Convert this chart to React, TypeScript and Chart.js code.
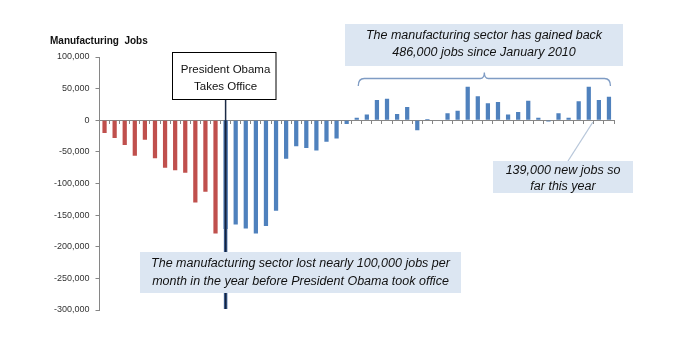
import React, { useEffect, useRef } from "react";
import { Chart, registerables } from "chart.js";

Chart.register(...registerables);

// Monthly change in manufacturing jobs, Jan 2008 – Mar 2012
const months = [
  "Jan 2008", "Feb 2008", "Mar 2008", "Apr 2008", "May 2008", "Jun 2008",
  "Jul 2008", "Aug 2008", "Sep 2008", "Oct 2008", "Nov 2008", "Dec 2008",
  "Jan 2009", "Feb 2009", "Mar 2009", "Apr 2009", "May 2009", "Jun 2009",
  "Jul 2009", "Aug 2009", "Sep 2009", "Oct 2009", "Nov 2009", "Dec 2009",
  "Jan 2010", "Feb 2010", "Mar 2010", "Apr 2010", "May 2010", "Jun 2010",
  "Jul 2010", "Aug 2010", "Sep 2010", "Oct 2010", "Nov 2010", "Dec 2010",
  "Jan 2011", "Feb 2011", "Mar 2011", "Apr 2011", "May 2011", "Jun 2011",
  "Jul 2011", "Aug 2011", "Sep 2011", "Oct 2011", "Nov 2011", "Dec 2011",
  "Jan 2012", "Feb 2012", "Mar 2012",
];

const jobs2008 = [-20000, -28000, -39000, -56000, -31000, -60000, -75000, -79000, -83000, -130000, -113000, -179000];
const jobs2009 = [-172000, -165000, -171000, -179000, -167000, -143000, -61000, -41000, -44000, -48000, -34000, -29000];
const jobs2010 = [-6000, 4000, 9000, 32000, 34000, 10000, 21000, -16000, 2000, 0, 11000, 15000];
const jobs2011 = [53000, 38000, 27000, 29000, 9000, 13000, 31000, 4000, -2000, 11000, 4000, 30000];
const jobs2012 = [53000, 32000, 37000];

const jobs = [...jobs2008, ...jobs2009, ...jobs2010, ...jobs2011, ...jobs2012];

const yMin = -300000;
const yMax = 100000;
const yStep = 50000;

const obamaMonth = "Jan 2009";
const bracketFrom = "Feb 2010";
const bracketTo = "Mar 2012";
const leaderMonth = "Jan 2012";

const titleText = "Manufacturing  Jobs";
const obamaText = ["President Obama", "Takes Office"];
const lostText = [
  "The manufacturing sector lost nearly 100,000 jobs per",
  "month in the year before President Obama took office",
];
const gainedText = ["The manufacturing sector has gained back", "486,000 jobs since January 2010"];
const yearText = ["139,000 new jobs so", "far this year"];

const RED = "#C0504D";
const BLUE = "#4F81BD";
const NOTE_FILL = "#DCE6F2";
const AXIS = "#868686";

const FONT = "'Liberation Sans', Arial, sans-serif";

function drawLines(ctx: CanvasRenderingContext2D, lines: string[], cx: number, y0: number, lh: number) {
  lines.forEach((t, i) => ctx.fillText(t, cx, y0 + i * lh));
}

const annotationPlugin = {
  id: "annotations",
  afterDatasetsDraw(chart: any) {
    const { ctx, scales } = chart;
    const x = scales.x;
    const y = scales.y;
    const zero = y.getPixelForValue(0);
    const ox = x.getPixelForValue(months.indexOf(obamaMonth));
    const yBottom = y.getPixelForValue(yMin);

    ctx.save();

    // Obama line
    ctx.lineCap = "butt";
    ctx.strokeStyle = "#1b2a44";
    ctx.lineWidth = 1.5;
    ctx.beginPath();
    ctx.moveTo(ox, 99);
    ctx.lineTo(ox, zero);
    ctx.stroke();
    ctx.strokeStyle = "#3d5f93";
    ctx.lineWidth = 3.5;
    ctx.beginPath();
    ctx.moveTo(ox, zero);
    ctx.lineTo(ox, yBottom - 1);
    ctx.stroke();
    ctx.strokeStyle = "#15233d";
    ctx.lineWidth = 1.5;
    ctx.beginPath();
    ctx.moveTo(ox, zero);
    ctx.lineTo(ox, yBottom - 1);
    ctx.stroke();

    // Obama box
    ctx.fillStyle = "#ffffff";
    ctx.fillRect(172.5, 52, 103.5, 47);
    ctx.strokeStyle = "#000000";
    ctx.lineWidth = 1;
    ctx.strokeRect(172.5, 52.5, 103.5, 47);
    ctx.fillStyle = "#111111";
    ctx.font = `11.5px ${FONT}`;
    ctx.textAlign = "center";
    ctx.textBaseline = "middle";
    drawLines(ctx, obamaText, ox, 70, 17);

    // "lost" note
    ctx.fillStyle = NOTE_FILL;
    ctx.fillRect(140, 252, 321, 41);
    ctx.fillStyle = "#111111";
    ctx.font = `italic 12.5px ${FONT}`;
    drawLines(ctx, lostText, 300.5, 264, 17.5);

    // "gained" note
    ctx.fillStyle = NOTE_FILL;
    ctx.fillRect(345, 24, 278, 42);
    ctx.fillStyle = "#111111";
    drawLines(ctx, gainedText, 484, 36, 17);

    // bracket
    const bx0 = x.getPixelForValue(months.indexOf(bracketFrom)) + 1.5;
    const bx1 = x.getPixelForValue(months.indexOf(bracketTo)) + 1.5;
    const bm = (bx0 + bx1) / 2;
    const by = 78.5;
    ctx.strokeStyle = "#7f9cc4";
    ctx.lineWidth = 1.3;
    ctx.beginPath();
    ctx.moveTo(bx0, 86);
    ctx.quadraticCurveTo(bx0, by, bx0 + 6, by);
    ctx.lineTo(bm - 4, by);
    ctx.quadraticCurveTo(bm, by, bm, 72.5);
    ctx.quadraticCurveTo(bm, by, bm + 4, by);
    ctx.lineTo(bx1 - 6, by);
    ctx.quadraticCurveTo(bx1, by, bx1, 86);
    ctx.stroke();

    // leader line to year note
    const lx = x.getPixelForValue(months.indexOf(leaderMonth)) + 4;
    ctx.strokeStyle = "#b8c7da";
    ctx.lineWidth = 1.3;
    ctx.beginPath();
    ctx.moveTo(lx, zero + 2);
    ctx.lineTo(568, 161);
    ctx.stroke();

    // "this year" note
    ctx.fillStyle = NOTE_FILL;
    ctx.fillRect(493, 161, 140, 32);
    ctx.fillStyle = "#111111";
    drawLines(ctx, yearText, 563, 170.5, 16);

    ctx.restore();
  },
  afterDraw(chart: any) {
    const { ctx } = chart;
    ctx.save();
    ctx.fillStyle = "#111111";
    ctx.font = `bold 10px ${FONT}`;
    ctx.textAlign = "left";
    ctx.textBaseline = "middle";
    ctx.fillText(titleText, 50, 41);
    ctx.restore();
  },
};

export default function App() {
  const canvasRef = useRef<HTMLCanvasElement | null>(null);

  useEffect(() => {
    const canvas = canvasRef.current;
    if (!canvas) return;
    const colors = months.map((_, i) => (i < months.indexOf(obamaMonth) ? RED : BLUE));
    const chart = new Chart(canvas, {
      type: "bar",
      data: {
        labels: months,
        datasets: [
          {
            data: jobs,
            backgroundColor: colors,
            borderWidth: 0,
            categoryPercentage: 1,
            barPercentage: 0.42,
          },
        ],
      },
      options: {
        responsive: false,
        animation: false,
        events: [],
        layout: { padding: { left: 0, right: 69, top: 57, bottom: 46 } },
        plugins: {
          legend: { display: false },
          tooltip: { enabled: false },
          title: { display: false },
        },
        scales: {
          x: {
            type: "category",
            position: { y: 0 } as any,
            offset: true,
            ticks: { display: false },
            grid: {
              display: true,
              offset: true,
              drawOnChartArea: false,
              drawTicks: true,
              tickLength: 3,
              color: AXIS,
            },
            border: { display: true, color: AXIS, width: 1 },
          },
          y: {
            min: yMin,
            max: yMax,
            afterFit: (scale: any) => {
              scale.width = 99.5;
            },
            ticks: {
              stepSize: yStep,
              color: "#333333",
              padding: 6,
              font: { family: FONT, size: 9 },
              callback: (v: any) => Number(v).toLocaleString("en-US"),
            },
            grid: {
              display: true,
              drawOnChartArea: false,
              drawTicks: true,
              tickLength: 4,
              color: AXIS,
            },
            border: { display: true, color: AXIS, width: 1 },
          },
        },
      },
      plugins: [annotationPlugin],
    });
    return () => chart.destroy();
  }, []);

  return (
    <div style={{ position: "absolute", left: 0, top: 0, width: 683, height: 356, background: "#ffffff" }}>
      <canvas ref={canvasRef} width={683} height={356} style={{ display: "block" }} />
    </div>
  );
}
